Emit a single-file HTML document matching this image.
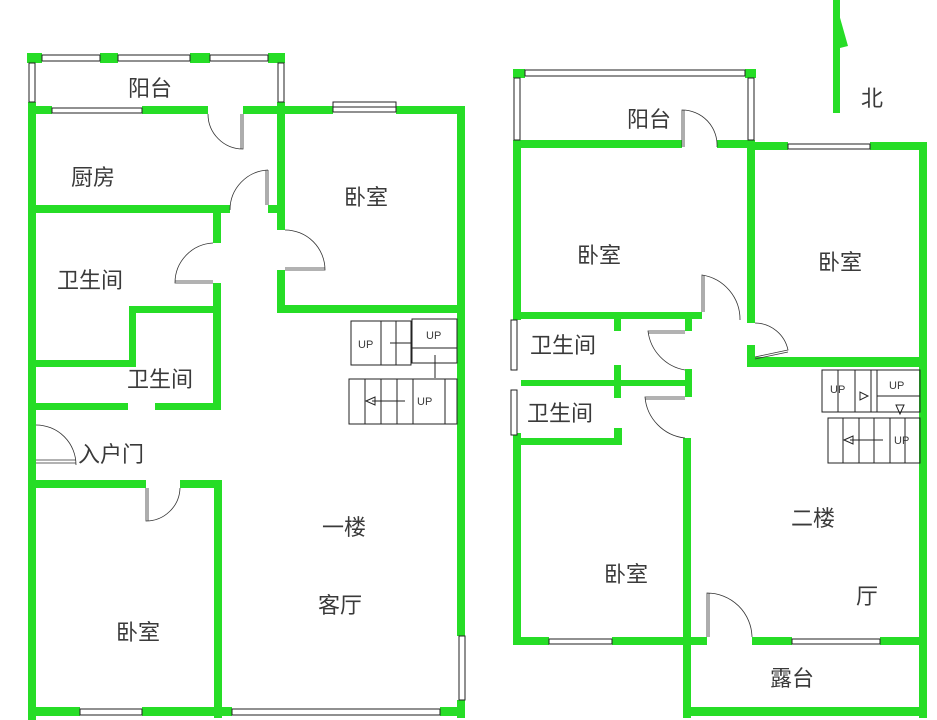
<!DOCTYPE html>
<html><head><meta charset="utf-8"><style>
body{margin:0;background:#fff}
svg{display:block}
text{font-family:"Liberation Sans","Noto Sans CJK SC",sans-serif;fill:#3a3a3a}
.c{font-size:22px}
.u{font-size:11px;fill:#222}
</style></head><body>
<svg width="937" height="720" viewBox="0 0 937 720" xmlns="http://www.w3.org/2000/svg">
<g fill="#26dd26">
<!-- LEFT BUILDING -->
<rect x="27" y="53" width="15" height="10"/><rect x="100" y="53" width="18" height="10"/><rect x="190" y="53" width="20" height="10"/><rect x="268" y="53" width="17" height="10"/>
<rect x="28" y="102" width="8" height="618"/>
<rect x="28" y="106" width="24" height="8"/><rect x="142" y="106" width="66" height="8"/><rect x="243" y="106" width="42" height="8"/>
<rect x="277" y="102" width="8" height="128"/><rect x="277" y="270" width="8" height="42"/>
<rect x="285" y="106" width="48" height="8"/><rect x="396" y="106" width="69" height="8"/>
<rect x="457" y="106" width="8" height="530"/><rect x="457" y="700" width="8" height="18"/>
<rect x="277" y="305" width="188" height="8"/>
<rect x="36" y="205" width="194" height="8"/><rect x="268" y="205" width="12" height="8"/>
<rect x="213" y="205" width="8" height="38"/><rect x="213" y="283" width="8" height="127"/>
<rect x="129" y="306" width="84" height="7"/><rect x="129" y="306" width="7" height="61"/>
<rect x="36" y="360" width="100" height="7"/>
<rect x="36" y="403" width="92" height="7"/><rect x="155" y="403" width="66" height="7"/>
<rect x="36" y="480" width="110" height="8"/><rect x="180" y="480" width="42" height="8"/>
<rect x="214" y="480" width="8" height="238"/>
<rect x="28" y="707" width="52" height="9"/><rect x="142" y="707" width="90" height="9"/><rect x="440" y="707" width="25" height="9"/>
<!-- RIGHT BUILDING -->
<rect x="513" y="69" width="12" height="9"/><rect x="745" y="69" width="11" height="9"/>
<rect x="513" y="140" width="8" height="180"/><rect x="513" y="433" width="8" height="212"/>
<rect x="747" y="69" width="9" height="9"/><rect x="747" y="140" width="8" height="183"/>
<rect x="513" y="140" width="169" height="8"/><rect x="717" y="140" width="38" height="8"/>
<rect x="755" y="142" width="33" height="8"/><rect x="870" y="142" width="57" height="8"/>
<rect x="919" y="142" width="8" height="576"/>
<rect x="747" y="357" width="180" height="10"/><rect x="747" y="345" width="8" height="22"/>
<rect x="513" y="312" width="189" height="7"/>
<rect x="614" y="319" width="7" height="12"/><rect x="685" y="319" width="7" height="12"/>
<rect x="521" y="380" width="171" height="6"/><rect x="614" y="365" width="7" height="33"/><rect x="685" y="369" width="7" height="28"/>
<rect x="513" y="438" width="109" height="7"/><rect x="614" y="428" width="8" height="17"/>
<rect x="683" y="438" width="8" height="280"/>
<rect x="513" y="637" width="36" height="8"/><rect x="612" y="637" width="95" height="8"/>
<rect x="752" y="637" width="40" height="8"/><rect x="880" y="637" width="47" height="8"/>
<rect x="683" y="707" width="244" height="9"/>
<!-- north arrow -->
<rect x="833" y="0" width="7" height="113"/>
<polygon points="835,0 848,46 840,48"/>
</g>
<g fill="#fff" stroke="#222" stroke-width="1">
<!-- left windows -->
<rect x="42" y="55" width="58" height="6"/><rect x="118" y="55" width="72" height="6"/><rect x="210" y="55" width="58" height="6"/>
<rect x="29" y="63" width="6" height="39"/><rect x="278" y="63" width="6" height="39"/>
<rect x="52" y="108" width="90" height="5"/>
<rect x="333" y="102" width="63" height="5"/><rect x="333" y="107" width="63" height="5"/>
<rect x="80" y="709" width="62" height="6"/><rect x="232" y="709" width="208" height="6"/>
<rect x="459" y="636" width="6" height="64"/>
<!-- right windows -->
<rect x="525" y="70" width="220" height="6"/>
<rect x="514" y="78" width="6" height="62"/><rect x="748" y="78" width="6" height="62"/>
<rect x="788" y="144" width="82" height="5"/>
<rect x="511" y="320" width="6" height="50"/><rect x="511" y="390" width="6" height="45"/>
<rect x="549" y="639" width="63" height="5"/><rect x="792" y="639" width="88" height="5"/>
</g>
<!-- doors -->
<g fill="none" stroke="#333" stroke-width="0.8">
<path d="M208,114 A35,35 0 0 0 243,149 M243,114 L243,149 L241,149 L241,114"/>
<path d="M268,170 A40,40 0 0 0 230,210 M268,170 L268,205 M266,170 L266,205"/>
<path d="M213,243 A40,40 0 0 0 175,283 L213,283 M175,281 L213,281"/>
<path d="M285,230 A40,40 0 0 1 325,270 L285,270 M325,268 L285,268"/>
<path d="M36,425 A40,40 0 0 1 76,465 M36,463 L76,463 M36,460 L76,460"/>
<path d="M146,488 L146,521 A34,34 0 0 0 180,488 M148,488 L148,521"/>
<path d="M682,147 L682,110 A35,35 0 0 1 717,147 M684,147 L684,110"/>
<path d="M702,312 L702,275 A45,45 0 0 1 740,320 M704,312 L704,275"/>
<path d="M755,323 A34,34 0 0 1 788,350 L755,357 M788,352 L755,359"/>
<path d="M685,331 L648,331 A45,45 0 0 0 685,370 M685,333 L648,333"/>
<path d="M685,397 L645,397 A45,45 0 0 0 685,438 M685,399 L645,399"/>
<path d="M707,637 L707,593 A45,45 0 0 1 752,637 M709,637 L709,593"/>
</g>
<!-- stairs -->
<g fill="none" stroke="#222" stroke-width="1">
<rect x="351" y="321" width="60" height="44"/><line x1="381" y1="321" x2="381" y2="365"/><line x1="396" y1="321" x2="396" y2="365"/><line x1="390" y1="343" x2="411" y2="343"/>
<rect x="412" y="319" width="45" height="44"/><line x1="412" y1="348" x2="457" y2="348"/><line x1="435" y1="355" x2="435" y2="378"/>
<rect x="349" y="379" width="108" height="45"/>
<line x1="365" y1="379" x2="365" y2="424"/><line x1="381" y1="379" x2="381" y2="424"/><line x1="397" y1="379" x2="397" y2="424"/><line x1="413" y1="379" x2="413" y2="424"/><line x1="445" y1="379" x2="445" y2="424"/>
<line x1="372" y1="401" x2="405" y2="401"/><polygon points="366,401 375,397 375,405"/>
<rect x="822" y="370" width="98" height="42"/>
<line x1="838" y1="370" x2="838" y2="412"/><line x1="855" y1="370" x2="855" y2="412"/><line x1="871" y1="370" x2="871" y2="412"/><line x1="877" y1="370" x2="877" y2="412"/><line x1="877" y1="396" x2="920" y2="396"/>
<polygon points="860,392 860,400 868,396"/>
<rect x="828" y="418" width="92" height="45"/>
<line x1="843" y1="418" x2="843" y2="463"/><line x1="859" y1="418" x2="859" y2="463"/><line x1="874" y1="418" x2="874" y2="463"/><line x1="890" y1="418" x2="890" y2="463"/><line x1="905" y1="418" x2="905" y2="463"/>
<line x1="850" y1="440" x2="883" y2="440"/><polygon points="844,440 853,436 853,444"/>
<polygon points="896,405 904,405 900,414"/>
</g>
<g class="u">
<text x="358" y="348">UP</text><text x="426" y="339">UP</text><text x="417" y="405">UP</text>
<text x="830" y="393">UP</text><text x="889" y="389">UP</text><text x="894" y="444">UP</text>
</g>
<g class="c">
<text x="128" y="96">阳台</text>
<text x="71" y="185">厨房</text>
<text x="344" y="205">卧室</text>
<text x="57" y="288">卫生间</text>
<text x="127" y="387">卫生间</text>
<text x="78" y="462">入户门</text>
<text x="322" y="535">一楼</text>
<text x="318" y="613">客厅</text>
<text x="116" y="640">卧室</text>
<text x="627" y="127">阳台</text>
<text x="577" y="263">卧室</text>
<text x="818" y="270">卧室</text>
<text x="530" y="353">卫生间</text>
<text x="527" y="421">卫生间</text>
<text x="604" y="582">卧室</text>
<text x="791" y="526">二楼</text>
<text x="856" y="604">厅</text>
<text x="770" y="686">露台</text>
<text x="861" y="106">北</text>
</g>
</svg>
</body></html>
